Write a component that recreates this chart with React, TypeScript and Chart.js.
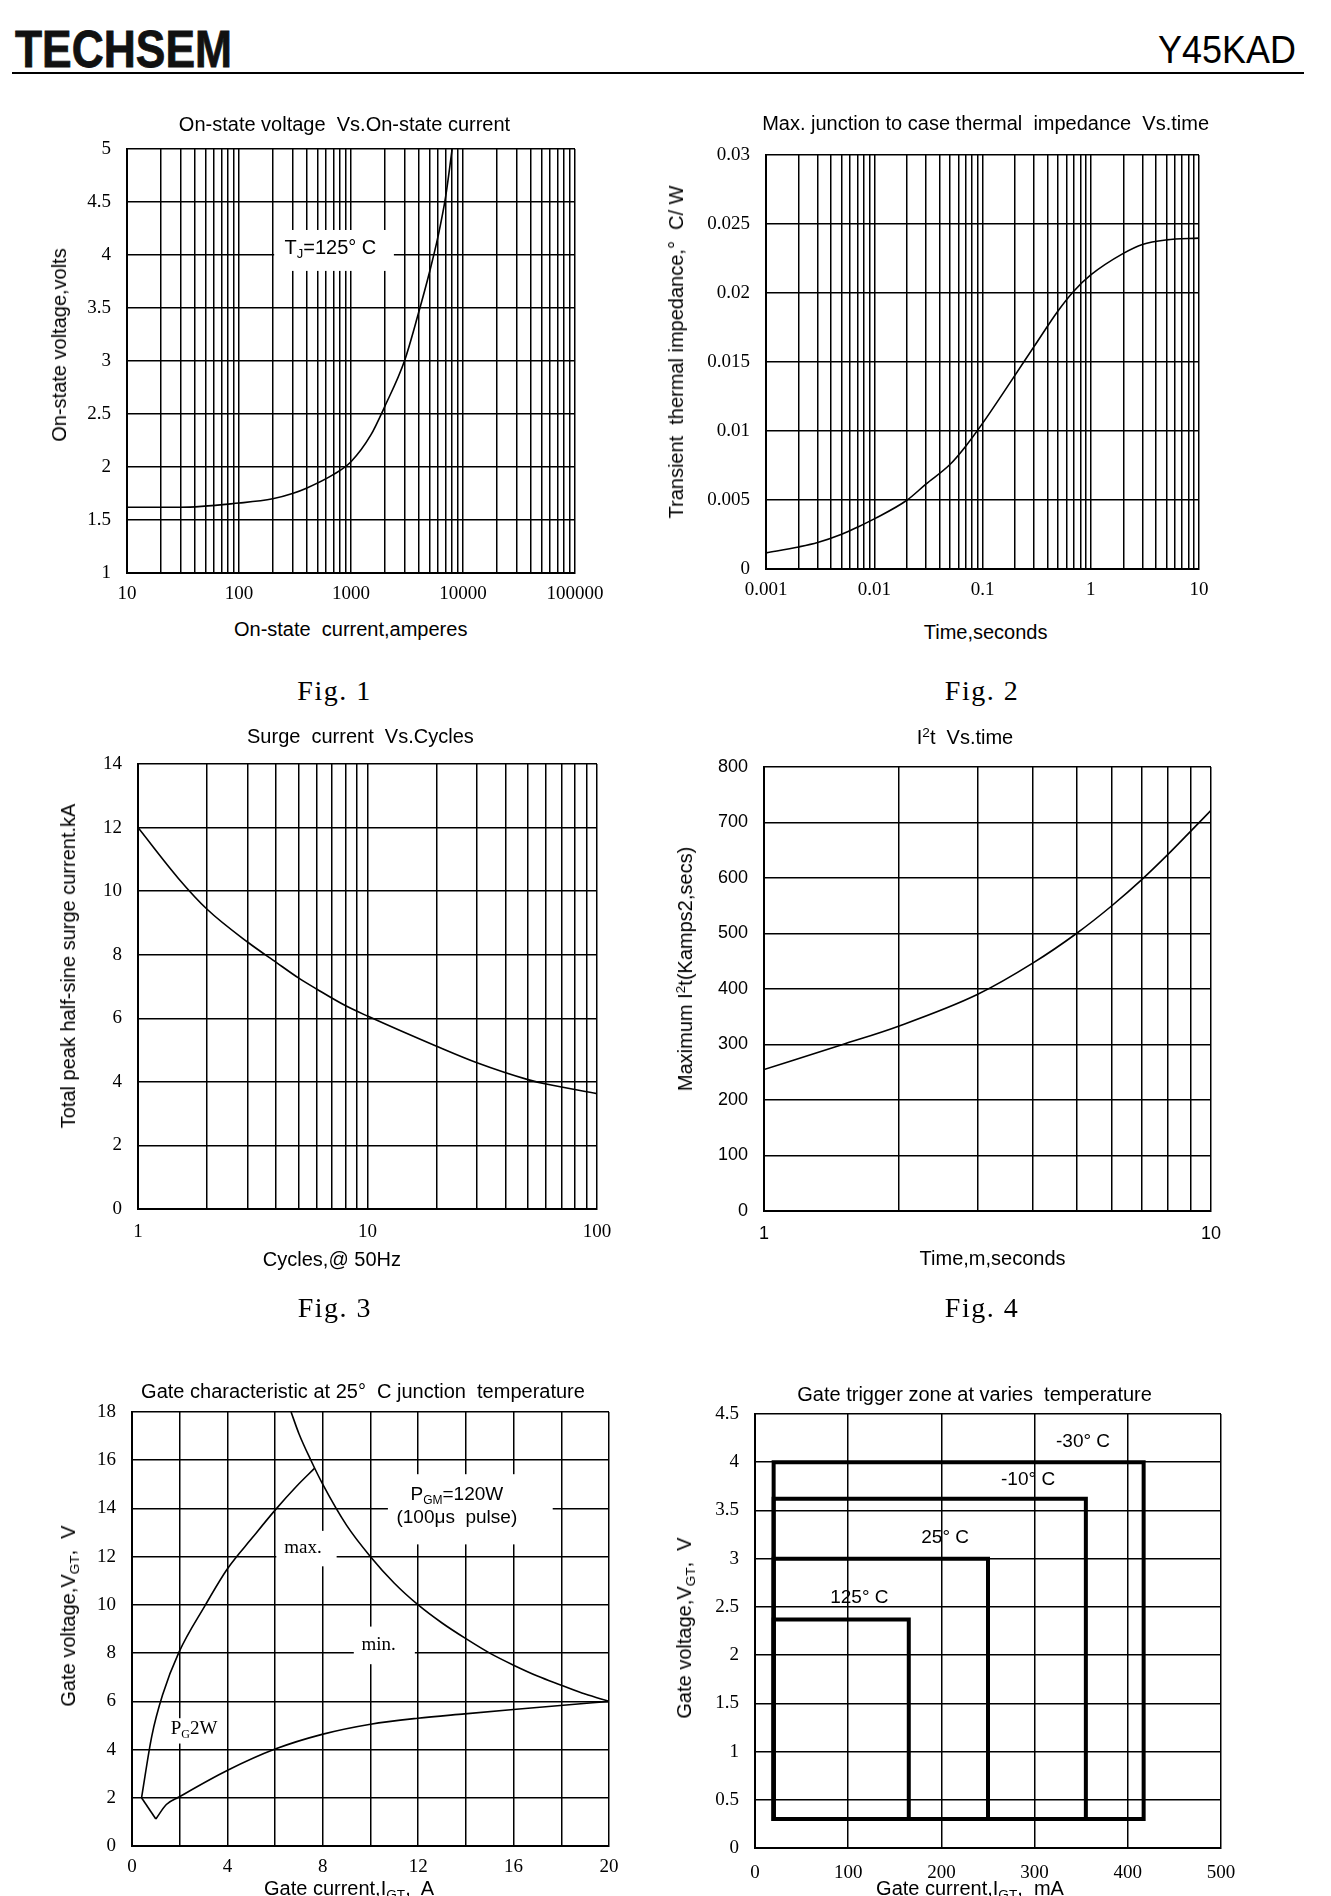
import React, { useEffect, useRef } from 'react';
import { Chart, registerables } from 'chart.js';

Chart.register(...registerables);

const SANS = '"Liberation Sans", Arial, sans-serif';
const SERIF = '"Liberation Serif", "Times New Roman", serif';

// ---------------- Fig. 1 : On-state voltage vs on-state current ----------------
const fig1Current = [10, 30, 100, 200, 300, 400, 700, 1000, 1500, 2000, 3000, 4000, 5000, 6000, 7000, 8000];
const fig1Voltage = [1.62, 1.62, 1.66, 1.7, 1.75, 1.8, 1.93, 2.05, 2.3, 2.57, 3.0, 3.45, 3.83, 4.18, 4.55, 5.0];
const fig1XGrid = [10, 20, 30, 40, 50, 60, 70, 80, 90, 100, 200, 300, 400, 500, 600, 700, 800, 900, 1000, 2000, 3000, 4000, 5000, 6000, 7000, 8000, 9000, 10000, 20000, 30000, 40000, 50000, 60000, 70000, 80000, 90000, 100000];
const fig1XTickValues = [10, 100, 1000, 10000, 100000];
const fig1XTickLabels = ['10', '100', '1000', '10000', '100000'];
const fig1YTickValues = [1, 1.5, 2, 2.5, 3, 3.5, 4, 4.5, 5];
const fig1YTickLabels = ['1', '1.5', '2', '2.5', '3', '3.5', '4', '4.5', '5'];

// ---------------- Fig. 2 : Thermal impedance vs time ----------------
const fig2Time = [0.001, 0.002, 0.003, 0.005, 0.007, 0.01, 0.02, 0.03, 0.05, 0.07, 0.1, 0.2, 0.3, 0.5, 0.7, 1, 2, 3, 5, 10];
const fig2Impedance = [0.00117, 0.0016, 0.00192, 0.00252, 0.00303, 0.00363, 0.00498, 0.00615, 0.00757, 0.0089, 0.01055, 0.01405, 0.01613, 0.01872, 0.02015, 0.02131, 0.02287, 0.02352, 0.02385, 0.02398];
const fig2XGrid = [0.001, 0.002, 0.003, 0.004, 0.005, 0.006, 0.007, 0.008, 0.009, 0.01, 0.02, 0.03, 0.04, 0.05, 0.06, 0.07, 0.08, 0.09, 0.1, 0.2, 0.3, 0.4, 0.5, 0.6, 0.7, 0.8, 0.9, 1, 2, 3, 4, 5, 6, 7, 8, 9, 10];
const fig2XTickValues = [0.001, 0.01, 0.1, 1, 10];
const fig2XTickLabels = ['0.001', '0.01', '0.1', '1', '10'];
const fig2YTickValues = [0, 0.005, 0.01, 0.015, 0.02, 0.025, 0.03];
const fig2YTickLabels = ['0', '0.005', '0.01', '0.015', '0.02', '0.025', '0.03'];

// ---------------- Fig. 3 : Surge current vs cycles ----------------
const fig3Cycles = [1, 1.5, 2, 3, 4, 5, 6, 8, 10, 20, 30, 50, 60, 100];
const fig3SurgeKA = [12.0, 10.4, 9.43, 8.4, 7.76, 7.27, 6.92, 6.4, 6.07, 5.12, 4.6, 4.07, 3.93, 3.63];
const fig3XGrid = [1, 2, 3, 4, 5, 6, 7, 8, 9, 10, 20, 30, 40, 50, 60, 70, 80, 90, 100];
const fig3XTickValues = [1, 10, 100];
const fig3XTickLabels = ['1', '10', '100'];
const fig3YTickValues = [0, 2, 4, 6, 8, 10, 12, 14];
const fig3YTickLabels = ['0', '2', '4', '6', '8', '10', '12', '14'];

// ---------------- Fig. 4 : I2t vs time ----------------
const fig4TimeMs = [1, 1.5, 2, 3, 4, 5, 6, 7, 8, 9, 10];
const fig4I2t = [255, 300, 333, 390, 447, 500, 550, 597, 642, 684, 722];
const fig4XGrid = [1, 2, 3, 4, 5, 6, 7, 8, 9, 10];
const fig4XTickValues = [1, 10];
const fig4XTickLabels = ['1', '10'];
const fig4YTickValues = [0, 100, 200, 300, 400, 500, 600, 700, 800];
const fig4YTickLabels = ['0', '100', '200', '300', '400', '500', '600', '700', '800'];

// ---------------- Fig. 5 : Gate characteristic ----------------
const fig5MaxCurrent = [0.4, 0.83, 1.28, 1.97, 3.05, 4.01, 5.05, 6.0, 6.9, 7.65];
const fig5MaxVoltage = [2.0, 4.56, 6.26, 8.04, 9.95, 11.51, 12.79, 13.93, 14.92, 15.66];
const fig5DipCurrent = [0.4, 1.0];
const fig5DipVoltage = [2.0, 1.12];
const fig5MinCurrent = [1.0, 1.44, 1.97, 4.01, 6.0, 7.97, 10.0, 11.98, 13.95, 15.99, 17.96, 20.0];
const fig5MinVoltage = [1.12, 1.72, 2.03, 3.14, 4.02, 4.63, 5.05, 5.3, 5.48, 5.66, 5.83, 6.0];
const fig5PgmCurrent = [6.67, 7, 7.5, 8, 9, 10, 11, 12, 13, 14, 15, 16, 17, 18, 19, 20];
const fig5PgmVoltage = [18, 17.1, 16, 15, 13.3, 12, 10.9, 10, 9.25, 8.6, 8, 7.5, 7.05, 6.67, 6.3, 6.0];
const fig5XGrid = [0, 2, 4, 6, 8, 10, 12, 14, 16, 18, 20];
const fig5XTickValues = [0, 4, 8, 12, 16, 20];
const fig5XTickLabels = ['0', '4', '8', '12', '16', '20'];
const fig5YTickValues = [0, 2, 4, 6, 8, 10, 12, 14, 16, 18];
const fig5YTickLabels = ['0', '2', '4', '6', '8', '10', '12', '14', '16', '18'];

// ---------------- Fig. 6 : Gate trigger zones ----------------
const zoneNames = ['-30° C', '-10° C', '25° C', '125° C'];
const zoneLeftMA = 20;
const zoneBottomV = 0.3;
const zoneRightMA = [417, 355, 250, 165];
const zoneTopV = [4.0, 3.62, 3.0, 2.37];
const fig6XTickValues = [0, 100, 200, 300, 400, 500];
const fig6XTickLabels = ['0', '100', '200', '300', '400', '500'];
const fig6YTickValues = [0, 0.5, 1, 1.5, 2, 2.5, 3, 3.5, 4, 4.5];
const fig6YTickLabels = ['0', '0.5', '1', '1.5', '2', '2.5', '3', '3.5', '4', '4.5'];

// ---------------- helpers ----------------
const PAD_L = 80;
const PAD_R = 45;
const PAD_T = 32;
const PAD_B = 45;

type Part = { t: string; sub?: boolean };
type AnnText = { x: number; y: number; parts: Part[]; size: number; family: string };
type AnnBox = { x0: number; x1: number; y0: number; y1: number };

function makeAnnotations(boxes: AnnBox[], texts: AnnText[]) {
  return {
    id: 'annot',
    beforeDatasetsDraw(chart: any) {
      const ctx = chart.ctx;
      const xs = chart.scales.x;
      const ys = chart.scales.y;
      ctx.save();
      ctx.fillStyle = '#fff';
      boxes.forEach((b) => {
        const a = xs.getPixelForValue(b.x0);
        const c = xs.getPixelForValue(b.x1);
        const d = ys.getPixelForValue(b.y0);
        const e = ys.getPixelForValue(b.y1);
        ctx.fillRect(Math.min(a, c), Math.min(d, e), Math.abs(c - a), Math.abs(e - d));
      });
      ctx.restore();
    },
    afterDatasetsDraw(chart: any) {
      const ctx = chart.ctx;
      const xs = chart.scales.x;
      const ys = chart.scales.y;
      ctx.save();
      ctx.fillStyle = '#000';
      ctx.textBaseline = 'middle';
      ctx.textAlign = 'left';
      texts.forEach((t) => {
        const subSize = Math.round(t.size * 0.65);
        let w = 0;
        t.parts.forEach((p) => {
          ctx.font = `${p.sub ? subSize : t.size}px ${t.family}`;
          w += ctx.measureText(p.t).width;
        });
        let x = xs.getPixelForValue(t.x) - w / 2;
        const y = ys.getPixelForValue(t.y);
        t.parts.forEach((p) => {
          ctx.font = `${p.sub ? subSize : t.size}px ${t.family}`;
          ctx.fillText(p.t, x, p.sub ? y + t.size * 0.3 : y);
          x += ctx.measureText(p.t).width;
        });
      });
      ctx.restore();
    },
  };
}

function makeAxis(o: {
  type: string;
  min: number;
  max: number;
  grid: number[];
  tickValues: number[];
  tickLabels: string[];
  font: any;
  padding: number;
  horizontal: boolean;
}) {
  return {
    type: o.type,
    min: o.min,
    max: o.max,
    afterBuildTicks: (ax: any) => {
      ax.ticks = o.grid.map((v) => ({ value: v }));
    },
    afterFit: (ax: any) => {
      if (o.horizontal) ax.height = PAD_B;
      else ax.width = PAD_L;
    },
    ticks: {
      autoSkip: false,
      maxRotation: 0,
      minRotation: 0,
      padding: o.padding,
      color: '#000',
      font: o.font,
      callback: (v: number) => {
        const i = o.tickValues.indexOf(v);
        return i >= 0 ? o.tickLabels[i] : '';
      },
    },
    grid: { color: '#000', lineWidth: 1.5, drawTicks: false },
    border: { color: '#000', width: 2 },
  };
}

function series(xs: number[], ys: number[], extra: any = {}) {
  return {
    data: xs.map((x, i) => ({ x, y: ys[i] })),
    showLine: true,
    borderColor: '#000',
    backgroundColor: '#000',
    borderWidth: 1.6,
    pointRadius: 0,
    pointHoverRadius: 0,
    fill: false,
    cubicInterpolationMode: 'monotone',
    ...extra,
  };
}

function buildConfig(o: { datasets: any[]; x: any; y: any; boxes?: AnnBox[]; texts?: AnnText[] }) {
  return {
    type: 'scatter',
    data: { datasets: o.datasets },
    options: {
      animation: false,
      responsive: false,
      maintainAspectRatio: false,
      devicePixelRatio: 1,
      events: [],
      layout: { padding: { left: 0, top: PAD_T, right: PAD_R, bottom: 0 } },
      plugins: { legend: { display: false }, tooltip: { enabled: false }, title: { display: false } },
      scales: { x: o.x, y: o.y },
    },
    plugins: [makeAnnotations(o.boxes || [], o.texts || [])],
  };
}

const serifTick = { family: SERIF, size: 19 };
const sansTick = { family: SANS, size: 18 };

function ChartPanel({ rect, make }: { rect: number[]; make: () => any }) {
  const ref = useRef<HTMLCanvasElement>(null);
  const [L, T, R, B] = rect;
  const w = R - L + PAD_L + PAD_R;
  const h = B - T + PAD_T + PAD_B;
  useEffect(() => {
    const chart = new Chart(ref.current as HTMLCanvasElement, make());
    return () => chart.destroy();
  }, []);
  return (
    <canvas
      ref={ref}
      width={w}
      height={h}
      style={{ position: 'absolute', left: L - PAD_L, top: T - PAD_T, width: w, height: h }}
    />
  );
}

function Txt({ x, y, size = 20, family = SANS, rotate = false, style = {}, children }: any) {
  return (
    <div
      style={{
        position: 'absolute',
        left: x,
        top: y,
        transform: `translate(-50%, -50%)${rotate ? ' rotate(-90deg)' : ''}`,
        fontFamily: family,
        fontSize: size,
        lineHeight: 1,
        whiteSpace: 'pre',
        color: '#000',
        ...style,
      }}
    >
      {children}
    </div>
  );
}

const subStyle: any = { fontSize: '0.68em', verticalAlign: '-0.3em', lineHeight: 0 };
const supStyle: any = { fontSize: '0.68em', verticalAlign: '0.55em', lineHeight: 0 };

// ---------------- chart configs ----------------
const fig1 = () =>
  buildConfig({
    datasets: [series(fig1Current, fig1Voltage)],
    x: makeAxis({ type: 'logarithmic', min: 10, max: 100000, grid: fig1XGrid, tickValues: fig1XTickValues, tickLabels: fig1XTickLabels, font: serifTick, padding: 10, horizontal: true }),
    y: makeAxis({ type: 'linear', min: 1, max: 5, grid: fig1YTickValues, tickValues: fig1YTickValues, tickLabels: fig1YTickLabels, font: serifTick, padding: 16, horizontal: false }),
    boxes: [{ x0: 206, x1: 2415, y0: 3.85, y1: 4.236 }],
    texts: [{ x: 655, y: 4.066, size: 20, family: SANS, parts: [{ t: 'T' }, { t: 'J', sub: true }, { t: '=125° C' }] }],
  });

const fig2 = () =>
  buildConfig({
    datasets: [series(fig2Time, fig2Impedance)],
    x: makeAxis({ type: 'logarithmic', min: 0.001, max: 10, grid: fig2XGrid, tickValues: fig2XTickValues, tickLabels: fig2XTickLabels, font: serifTick, padding: 10, horizontal: true }),
    y: makeAxis({ type: 'linear', min: 0, max: 0.03, grid: fig2YTickValues, tickValues: fig2YTickValues, tickLabels: fig2YTickLabels, font: serifTick, padding: 16, horizontal: false }),
  });

const fig3 = () =>
  buildConfig({
    datasets: [series(fig3Cycles, fig3SurgeKA)],
    x: makeAxis({ type: 'logarithmic', min: 1, max: 100, grid: fig3XGrid, tickValues: fig3XTickValues, tickLabels: fig3XTickLabels, font: serifTick, padding: 12, horizontal: true }),
    y: makeAxis({ type: 'linear', min: 0, max: 14, grid: fig3YTickValues, tickValues: fig3YTickValues, tickLabels: fig3YTickLabels, font: serifTick, padding: 16, horizontal: false }),
  });

const fig4 = () =>
  buildConfig({
    datasets: [series(fig4TimeMs, fig4I2t)],
    x: makeAxis({ type: 'logarithmic', min: 1, max: 10, grid: fig4XGrid, tickValues: fig4XTickValues, tickLabels: fig4XTickLabels, font: sansTick, padding: 12, horizontal: true }),
    y: makeAxis({ type: 'linear', min: 0, max: 800, grid: fig4YTickValues, tickValues: fig4YTickValues, tickLabels: fig4YTickLabels, font: sansTick, padding: 16, horizontal: false }),
  });

const fig5 = () =>
  buildConfig({
    datasets: [
      series(fig5MaxCurrent, fig5MaxVoltage),
      series(fig5DipCurrent, fig5DipVoltage, { cubicInterpolationMode: 'default', tension: 0 }),
      series(fig5MinCurrent, fig5MinVoltage),
      series(fig5PgmCurrent, fig5PgmVoltage),
    ],
    x: makeAxis({ type: 'linear', min: 0, max: 20, grid: fig5XGrid, tickValues: fig5XTickValues, tickLabels: fig5XTickLabels, font: serifTick, padding: 10, horizontal: true }),
    y: makeAxis({ type: 'linear', min: 0, max: 18, grid: fig5YTickValues, tickValues: fig5YTickValues, tickLabels: fig5YTickLabels, font: serifTick, padding: 16, horizontal: false }),
    boxes: [
      { x0: 10.73, x1: 17.64, y0: 12.51, y1: 15.42 },
      { x0: 6.05, x1: 8.58, y0: 11.6, y1: 13.07 },
      { x0: 9.3, x1: 11.86, y0: 7.54, y1: 9.1 },
      { x0: 1.7, x1: 3.5, y0: 4.25, y1: 5.3 },
    ],
    texts: [
      { x: 13.62, y: 14.57, size: 19, family: SANS, parts: [{ t: 'P' }, { t: 'GM', sub: true }, { t: '=120W' }] },
      { x: 13.62, y: 13.61, size: 19, family: SANS, parts: [{ t: '(100μs  pulse)' }] },
      { x: 7.17, y: 12.37, size: 19, family: SERIF, parts: [{ t: 'max.' }] },
      { x: 10.34, y: 8.32, size: 19, family: SERIF, parts: [{ t: 'min.' }] },
      { x: 2.6, y: 4.85, size: 19, family: SERIF, parts: [{ t: 'P' }, { t: 'G', sub: true }, { t: '2W' }] },
    ],
  });

const fig6 = () =>
  buildConfig({
    datasets: zoneRightMA.map((right, i) =>
      series(
        [zoneLeftMA, zoneLeftMA, right, right, zoneLeftMA],
        [zoneBottomV, zoneTopV[i], zoneTopV[i], zoneBottomV, zoneBottomV],
        { label: zoneNames[i], cubicInterpolationMode: 'default', tension: 0, borderWidth: 4, borderJoinStyle: 'miter', borderCapStyle: 'square' }
      )
    ),
    x: makeAxis({ type: 'linear', min: 0, max: 500, grid: fig6XTickValues, tickValues: fig6XTickValues, tickLabels: fig6XTickLabels, font: serifTick, padding: 14, horizontal: true }),
    y: makeAxis({ type: 'linear', min: 0, max: 4.5, grid: fig6YTickValues, tickValues: fig6YTickValues, tickLabels: fig6YTickLabels, font: serifTick, padding: 16, horizontal: false }),
    texts: [
      { x: 352, y: 4.21, size: 19, family: SANS, parts: [{ t: zoneNames[0] }] },
      { x: 293, y: 3.82, size: 19, family: SANS, parts: [{ t: zoneNames[1] }] },
      { x: 204, y: 3.22, size: 19, family: SANS, parts: [{ t: zoneNames[2] }] },
      { x: 112, y: 2.59, size: 19, family: SANS, parts: [{ t: zoneNames[3] }] },
    ],
  });

export default function App() {
  return (
    <div style={{ position: 'absolute', left: 0, top: 0, width: 1331, height: 1896, background: '#fff', overflow: 'hidden' }}>
      {/* header */}
      <div
        style={{
          position: 'absolute', left: 15, top: 23.5, fontFamily: SANS, fontWeight: 700, fontSize: 51, lineHeight: 1,
          transform: 'scaleX(0.87)', transformOrigin: 'left top', WebkitTextStroke: '0.8px #111', color: '#111', whiteSpace: 'pre',
        }}
      >
        TECHSEM
      </div>
      <div
        style={{
          position: 'absolute', left: 1158, top: 30, fontFamily: SANS, fontSize: 39.5, lineHeight: 1,
          transform: 'scaleX(0.91)', transformOrigin: 'left top', color: '#000', whiteSpace: 'pre',
        }}
      >
        Y45KAD
      </div>
      <div style={{ position: 'absolute', left: 12, top: 72.3, width: 1292, height: 2, background: '#000' }} />

      {/* charts */}
      <ChartPanel rect={[127, 149, 575, 573]} make={fig1} />
      <ChartPanel rect={[766, 155, 1199, 569]} make={fig2} />
      <ChartPanel rect={[138, 764, 597, 1209]} make={fig3} />
      <ChartPanel rect={[764, 767, 1211, 1211]} make={fig4} />
      <ChartPanel rect={[132, 1412, 609, 1846]} make={fig5} />
      <ChartPanel rect={[755, 1414, 1221, 1848]} make={fig6} />

      {/* Fig 1 texts */}
      <Txt x={344.5} y={124}>{'On-state voltage  Vs.On-state current'}</Txt>
      <Txt x={350.7} y={628.6}>{'On-state  current,amperes'}</Txt>
      <Txt x={58.6} y={344.6} rotate>{'On-state voltage,volts'}</Txt>
      <Txt x={334.5} y={690.5} size={28} family={SERIF} style={{ letterSpacing: '1.5px' }}>Fig. 1</Txt>

      {/* Fig 2 texts */}
      <Txt x={985.6} y={123.2}>{'Max. junction to case thermal  impedance  Vs.time'}</Txt>
      <Txt x={985.6} y={632}>{'Time,seconds'}</Txt>
      <Txt x={676} y={351.8} rotate>{'Transient  thermal impedance,°  C/ W'}</Txt>
      <Txt x={982} y={690.5} size={28} family={SERIF} style={{ letterSpacing: '1.5px' }}>Fig. 2</Txt>

      {/* Fig 3 texts */}
      <Txt x={360.4} y={735.9}>{'Surge  current  Vs.Cycles'}</Txt>
      <Txt x={331.9} y={1259.4}>{'Cycles,@ 50Hz'}</Txt>
      <Txt x={67.7} y={966} rotate>{'Total peak half-sine surge current.kA'}</Txt>
      <Txt x={334.9} y={1308} size={28} family={SERIF} style={{ letterSpacing: '1.5px' }}>Fig. 3</Txt>

      {/* Fig 4 texts */}
      <Txt x={965} y={736.6}>I<span style={supStyle}>2</span>{'t  Vs.time'}</Txt>
      <Txt x={992.6} y={1258.3}>{'Time,m,seconds'}</Txt>
      <Txt x={684.7} y={969} rotate>Maximum I<span style={supStyle}>2</span>t(Kamps2,secs)</Txt>
      <Txt x={982} y={1308} size={28} family={SERIF} style={{ letterSpacing: '1.5px' }}>Fig. 4</Txt>

      {/* Fig 5 texts */}
      <Txt x={363} y={1390.8}>{'Gate characteristic at 25°  C junction  temperature'}</Txt>
      <Txt x={349} y={1888}>Gate current,I<span style={subStyle}>GT</span>{',  A'}</Txt>
      <Txt x={67.6} y={1616} rotate>Gate voltage,V<span style={subStyle}>GT</span>{',  V'}</Txt>

      {/* Fig 6 texts */}
      <Txt x={974.6} y={1393.5}>{'Gate trigger zone at varies  temperature'}</Txt>
      <Txt x={970} y={1888}>Gate current,I<span style={subStyle}>GT</span>{',  mA'}</Txt>
      <Txt x={683.7} y={1628} rotate>Gate voltage,V<span style={subStyle}>GT</span>{',  V'}</Txt>
    </div>
  );
}
